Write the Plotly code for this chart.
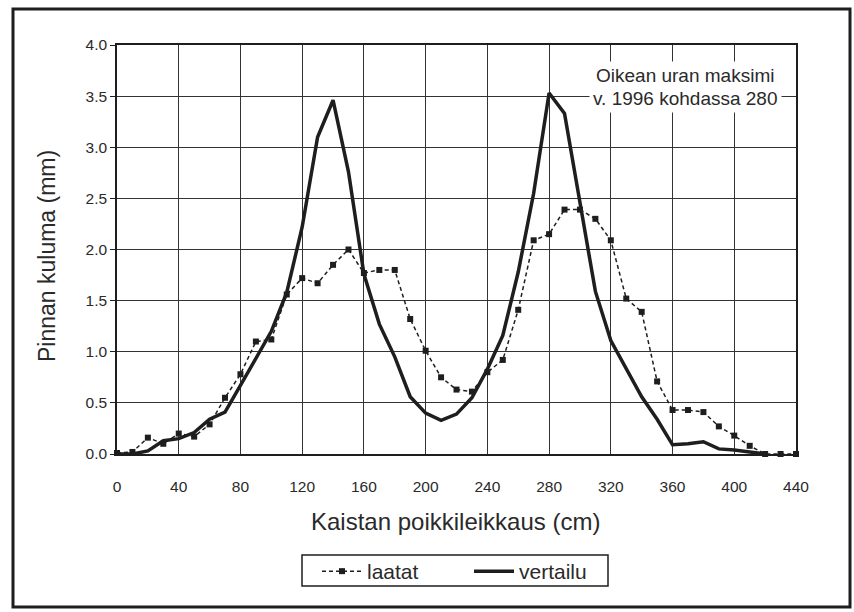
import plotly.graph_objects as go

# ---- data ----
x_cm = list(range(0, 450, 10))
laatat = [0.01, 0.02, 0.16, 0.10, 0.20, 0.17, 0.29, 0.55, 0.78, 1.10,
          1.12, 1.56, 1.72, 1.67, 1.85, 2.00, 1.77, 1.80, 1.80, 1.32,
          1.01, 0.75, 0.63, 0.61, 0.80, 0.92, 1.41, 2.09, 2.15, 2.39,
          2.39, 2.30, 2.09, 1.52, 1.39, 0.71, 0.43, 0.43, 0.41, 0.27,
          0.18, 0.08, 0.00, 0.00, 0.00]
x_vert = list(range(0, 430, 10))
vertailu = [0.00, 0.00, 0.03, 0.13, 0.15, 0.21, 0.34, 0.41, 0.67, 0.93,
            1.20, 1.58, 2.22, 3.10, 3.46, 2.76, 1.76, 1.27, 0.95, 0.56,
            0.40, 0.33, 0.39, 0.55, 0.83, 1.16, 1.78, 2.55, 3.53, 3.33,
            2.48, 1.59, 1.11, 0.83, 0.56, 0.34, 0.09, 0.10, 0.12, 0.05,
            0.04, 0.02, 0.00]
x_ticks = list(range(0, 441, 40))
y_ticks = [0.0, 0.5, 1.0, 1.5, 2.0, 2.5, 3.0, 3.5, 4.0]

FONT = "Liberation Sans, Arial, sans-serif"
INK = "#1e1e1e"
TXT = "#2a2a2a"

fig = go.Figure()
fig.add_trace(go.Scatter(
    x=x_cm, y=laatat, name="laatat", mode="lines+markers",
    line=dict(color=INK, width=1.5, dash="4px,3px"),
    marker=dict(symbol="square", size=6, color=INK),
    cliponaxis=False,
))
fig.add_trace(go.Scatter(
    x=x_vert, y=vertailu, name="vertailu", mode="lines",
    line=dict(color=INK, width=3.5),
    cliponaxis=False,
))

L, R, T, B = 117, 58, 45, 158
W, H = 854, 612
pw, ph = W - L - R, H - T - B

def px(xp):
    return (xp - L) / pw

def py(yp):
    return (H - B - yp) / ph

fig.update_layout(
    width=W, height=H,
    margin=dict(l=L, r=R, t=T, b=B, autoexpand=False),
    paper_bgcolor="white", plot_bgcolor="white",
    font=dict(family=FONT, color=TXT),
    showlegend=True,
    legend=dict(
        orientation="h", x=px(317), y=py(551), xanchor="left", yanchor="top",
        borderwidth=0, bgcolor="rgba(0,0,0,0)",
        font=dict(size=21, family=FONT, color=TXT),
        entrywidth=97, entrywidthmode="pixels",
        itemwidth=40,
    ),
    xaxis=dict(
        range=[0, 440], tickvals=x_ticks, ticktext=[str(v) for v in x_ticks],
        showgrid=True, gridcolor="#333", gridwidth=1,
        showline=True, linecolor=INK, linewidth=1.5, mirror=True,
        ticks="", tickfont=dict(size=15.5, family=FONT), ticklabelstandoff=18,
        zeroline=False,
    ),
    yaxis=dict(
        range=[0, 4.0], tickvals=y_ticks, ticktext=[f"{v:.1f}" for v in y_ticks],
        showgrid=True, gridcolor="#333", gridwidth=1,
        showline=True, linecolor=INK, linewidth=1.5, mirror=True,
        ticks="outside", ticklen=5, tickcolor=INK, tickwidth=1,
        tickfont=dict(size=15.5, family=FONT),
        zeroline=False,
    ),
    annotations=[
        dict(text="Kaistan poikkileikkaus (cm)", xref="paper", yref="paper",
             x=px(455), y=py(521), xanchor="center", yanchor="middle",
             showarrow=False, font=dict(size=24, family=FONT, color=TXT)),
        dict(text="Pinnan kuluma (mm)", xref="paper", yref="paper",
             x=px(47), y=py(256), xanchor="center", yanchor="middle",
             textangle=-90, showarrow=False,
             font=dict(size=23, family=FONT, color=TXT)),
        dict(text="Oikean uran maksimi", xref="paper", yref="paper",
             x=px(685), y=py(76), xanchor="center", yanchor="middle",
             showarrow=False, bgcolor="white", borderpad=3,
             font=dict(size=19, family=FONT, color=TXT)),
        dict(text="v. 1996 kohdassa 280", xref="paper", yref="paper",
             x=px(685), y=py(98), xanchor="center", yanchor="middle",
             showarrow=False, bgcolor="white", borderpad=3,
             font=dict(size=19, family=FONT, color=TXT)),
    ],
    shapes=[
        dict(type="rect", xref="paper", yref="paper",
             x0=px(13), x1=px(850), y0=py(607), y1=py(9),
             line=dict(color=INK, width=3), fillcolor="rgba(0,0,0,0)",
             layer="below"),
        dict(type="rect", xref="paper", yref="paper",
             x0=px(302), x1=px(608), y0=py(586), y1=py(555),
             line=dict(color=INK, width=1.5), fillcolor="white",
             layer="below"),
    ],
)

fig.write_html("out.html")
